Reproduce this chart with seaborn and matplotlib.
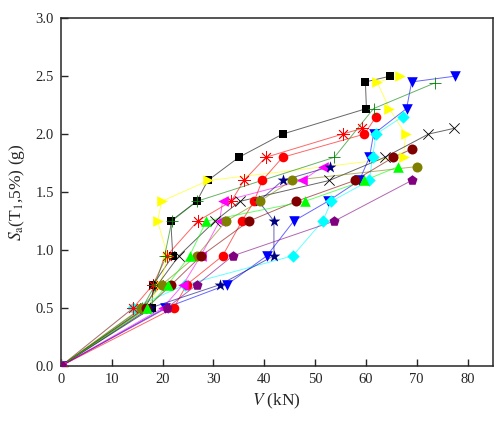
import numpy as np
import pandas as pd
import seaborn as sns
from matplotlib import pyplot as plt

# Sa levels used by the records (g)
SA_FULL = [0, 0.5, 0.7, 0.95, 1.25, 1.42, 1.6, 1.8, 2.0, 2.22, 2.45, 2.5]
SA_215 = [0, 0.5, 0.7, 0.95, 1.25, 1.42, 1.6, 1.8, 2.0, 2.15]
SA_205 = [0, 0.5, 0.7, 0.95, 1.25, 1.42, 1.6, 1.8, 2.0, 2.05]
SA_172 = [0, 0.5, 0.7, 0.95, 1.25, 1.42, 1.6, 1.72]

black_sq_v = [0, 17.9, 18.1, 22.0, 21.6, 26.7, 28.9, 35.0, 43.6, 60.1, 59.9, 64.8]
yellow_v = [0, 17.0, 19.5, 21.0, 19.0, 19.8, 29.0, 67.4, 67.8, 64.6, 62.2, 66.8]
blue_v = [0, 20.5, 32.6, 40.5, 45.8, 52.5, 58.7, 60.7, 61.5, 68.0, 69.0, 77.6]
cyan_v = [0, 14.2, 24.4, 45.6, 51.5, 53.2, 60.7, 61.3, 62.0, 67.2]
red_circ_v = [0, 22.2, 24.7, 31.8, 35.6, 38.0, 39.6, 43.6, 59.7, 62.0]
red_ast_v = [0, 14.2, 18.1, 20.8, 26.9, 33.5, 36.0, 40.3, 55.4, 59.3]
green_plus_v = [0, 16.0, 18.5, 20.4, 21.8, 26.7, 53.8, 61.5, 73.5]
green_plus_sa = [0, 0.5, 0.7, 0.95, 1.25, 1.42, 1.8, 2.22, 2.44]
black_x_v = [0, 16.5, 19.0, 23.2, 30.3, 35.2, 52.8, 63.7, 72.3, 77.4]
magenta_v = [0, 20.0, 24.0, 27.5, 31.2, 31.8, 47.5, 51.5]
navy_v = [0, 17.5, 31.2, 41.9, 41.9, 38.9, 43.6, 53.0]
olive_v = [0, 15.8, 19.8, 26.7, 32.5, 39.1, 45.4, 70.1]
maroon_v = [0, 16.8, 21.7, 27.6, 37.0, 46.3, 57.8, 65.4, 69.0]
maroon_sa = [0, 0.5, 0.7, 0.95, 1.25, 1.42, 1.6, 1.8, 1.87]
lime_v = [0, 17.0, 21.0, 25.3, 28.6, 48.0, 59.7, 66.4]
purple_v = [0, 20.8, 26.7, 33.8, 53.8, 69.0]
purple_sa = [0, 0.5, 0.7, 0.95, 1.25, 1.6]

# name: (V, Sa, colour, marker, size)
series = {
    "GM1": (black_sq_v, SA_FULL, "#000000", "s", 40),
    "GM2": (yellow_v, SA_FULL, "#ffff00", ">", 58),
    "GM3": (blue_v, SA_FULL, "#0000ff", "v", 58),
    "GM4": (cyan_v, SA_215, "#00ffff", "D", 40),
    "GM5": (red_circ_v, SA_215, "#ff0000", "o", 48),
    "GM6": (red_ast_v, SA_205, "#ff0000", (8, 2, 0), 75),
    "GM7": (green_plus_v, green_plus_sa, "#008000", "+", 65),
    "GM8": (black_x_v, SA_205, "#000000", "x", 55),
    "GM9": (magenta_v, SA_172, "#ff00ff", "<", 58),
    "GM10": (navy_v, SA_172, "#000080", "*", 80),
    "GM11": (olive_v, SA_172, "#808000", "o", 52),
    "GM12": (maroon_v, maroon_sa, "#800000", "o", 52),
    "GM13": (lime_v, SA_172, "#00ff00", "^", 58),
    "GM14": (purple_v, purple_sa, "#800080", "p", 58),
}


def build_frame() -> pd.DataFrame:
    rows = []
    for name, (v, sa, _, _, _) in series.items():
        for i, (x, y) in enumerate(zip(v, sa)):
            rows.append({"record": name, "step": i, "V": x, "Sa": y})
    return pd.DataFrame(rows)


def main() -> None:
    sns.set_style("ticks")
    plt.rcParams["font.family"] = ["Liberation Serif", "DejaVu Serif"]
    plt.rcParams["mathtext.fontset"] = "stix"

    df = build_frame()
    palette = {k: s[2] for k, s in series.items()}

    fig = plt.figure(figsize=(5.02, 4.22), dpi=100)
    ax = fig.add_axes([0.1215, 0.1327, 0.8605, 0.8243])

    sns.lineplot(
        data=df, x="V", y="Sa", hue="record", units="record", estimator=None,
        sort=False, palette=palette, linewidth=0.7, alpha=0.6, legend=False, ax=ax,
    )
    for name, (_, _, color, marker, size) in series.items():
        sub = df[df["record"] == name]
        line_art = marker in ("+", "x") or isinstance(marker, tuple)
        sns.scatterplot(
            data=sub, x="V", y="Sa", color=color, marker=marker, s=size,
            linewidth=0.6 if line_art else 0, legend=False, ax=ax, zorder=3,
        )

    ax.set_xlim(0, 85)
    ax.set_ylim(0, 3.0)
    ax.set_xticks(np.arange(0, 81, 10))
    ax.set_yticks(np.arange(0, 3.01, 0.5))
    ax.set_yticklabels([f"{t:.1f}" for t in np.arange(0, 3.01, 0.5)])
    ax.tick_params(direction="in", length=5, width=1, labelsize=10.5, pad=5)
    for spine in ax.spines.values():
        spine.set_linewidth(1.1)
        spine.set_visible(True)

    ax.set_xlabel(r"$\it{V}$ (kN)", fontsize=12.5, labelpad=4)
    ax.set_ylabel(r"$\it{S}_\mathrm{a}$(T$_\mathrm{1}$,5%) (g)", fontsize=12.5, labelpad=6)

    fig.savefig("out.png", dpi=100)
    plt.close(fig)


if __name__ == "__main__":
    main()
